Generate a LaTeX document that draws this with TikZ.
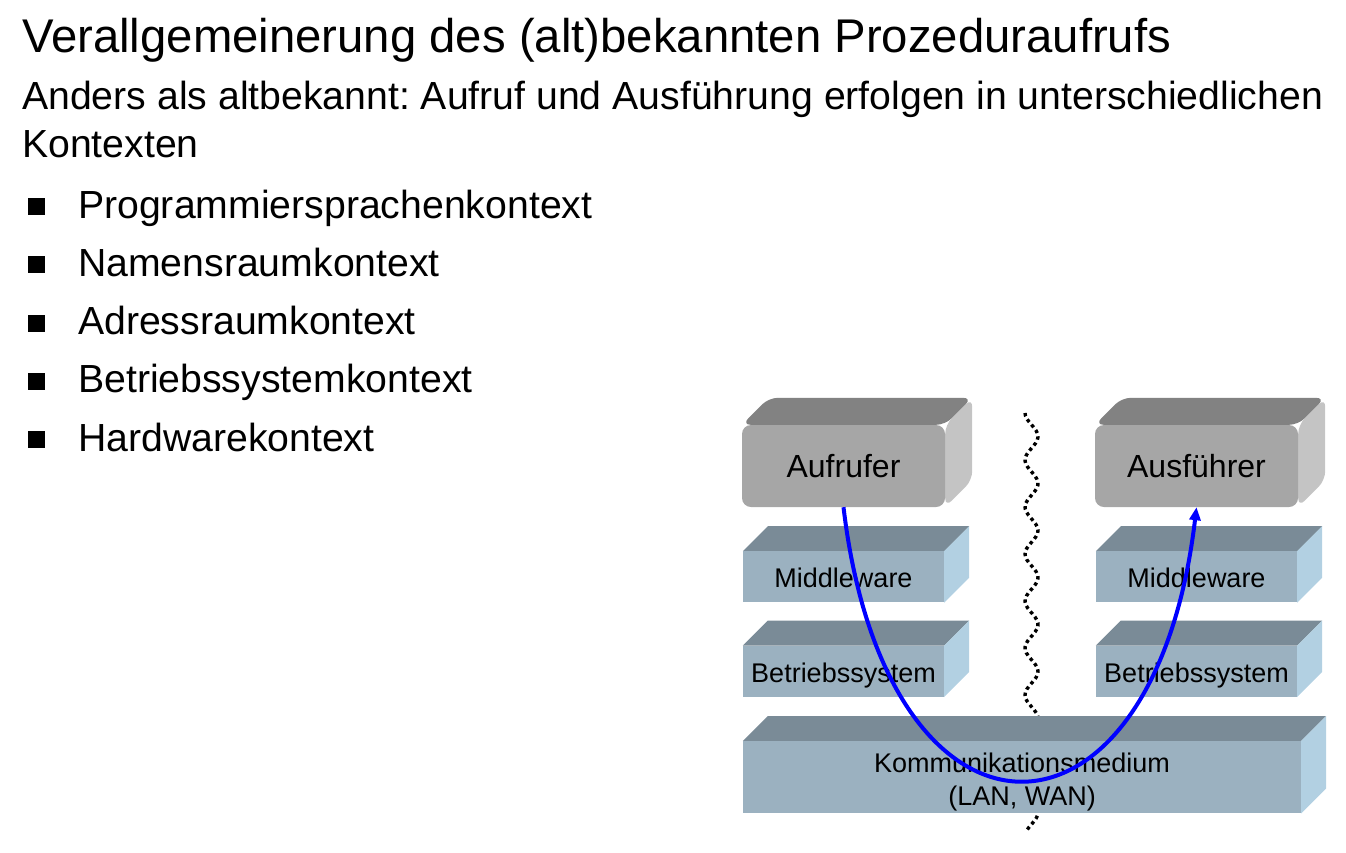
\documentclass[tikz,border=0pt]{standalone}
\usepackage{fontspec}
\setmainfont{Liberation Sans}
\usepackage{xcolor}
\usetikzlibrary{arrows.meta, positioning, calc, backgrounds}
\frenchspacing
\definecolor{cRoleFront}{RGB}{166,166,166}
\definecolor{cRoleTop}{RGB}{130,130,130}
\definecolor{cRoleSide}{RGB}{196,196,196}
\definecolor{cSlabFront}{RGB}{155,177,192}
\definecolor{cSlabTop}{RGB}{122,139,151}
\definecolor{cSlabSide}{RGB}{178,208,226}
\definecolor{cCall}{RGB}{0,0,255}
\tikzset{
    role/.style     ={rectangle, rounded corners=9pt, fill=cRoleFront, minimum width=203pt, minimum height=82pt, inner sep=0pt, text centered, font=\fontsize{32}{38}\selectfont},
    slab/.style     ={rectangle, fill=cSlabFront, minimum width=201pt, minimum height=51pt, inner sep=0pt, align=center, text height=21.4pt, text depth=0pt, font=\fontsize{27}{33}\selectfont},
    headline/.style ={anchor=base west, inner sep=0pt, font=\fontsize{47.3}{56}\selectfont},
    bodyline/.style ={anchor=base west, inner sep=0pt, font=\fontsize{39.2}{49}\selectfont},
    item/.style     ={anchor=base west, inner sep=0pt, font=\fontsize{39.2}{49}\selectfont},
    bulletsq/.style ={rectangle, fill=black, minimum size=17pt, inner sep=0pt},
    separator/.style={line width=3.4pt, dash pattern=on 3.4pt off 3.4pt},
    callarrow/.style={-{Triangle[length=13pt, width=11pt]}, line width=4pt, draw=cCall},
}
\newcommand{\depthfaces}[5]{%
    \fill[#2, #5] (#1.north west) -- ++(#4,-#4) -- ($(#1.north east)+(#4,-#4)$) -- (#1.north east) -- cycle;
    \fill[#3, #5] (#1.north east) -- ++(#4,-#4) -- ($(#1.south east)+(#4,-#4)$) -- (#1.south east) -- cycle;
}

\begin{document}
\begin{tikzpicture}[x=1pt, y=-1pt]
    \useasboundingbox (0,0) rectangle (1346,852);
    \node[headline] (title) at (22,52) {Verallgemeinerung des (alt)bekannten Prozeduraufrufs};
    \node[bodyline] (intro) at (22,109) {Anders als altbekannt: Aufruf und Ausführung erfolgen in unterschiedlichen};
    \node[bodyline] (introcont) at (22,157) {Kontexten};
    \foreach \ctx [count=\i from 0] in {Programmiersprachenkontext, Namensraumkontext, Adressraumkontext, Betriebssystemkontext, Hardwarekontext} {
        \node[bulletsq] (bul\i) at (36.5, 206.5+58.3*\i) {};
        \node[item] (ctx\i) at (78, 218+58.3*\i) {\ctx};
    }

    \node[role] (aufrufer) at (843.5,466) {Aufrufer};
    \node[slab, below=44pt of aufrufer] (mwL) {Middleware};
    \node[slab, below=43pt of mwL] (bsL) {Betriebssystem};
    \node[role] (ausfuehrer) at (1196.5,466) {Ausführer};
    \node[slab, below=44pt of ausfuehrer] (mwR) {Middleware};
    \node[slab, below=43pt of mwR] (bsR) {Betriebssystem};
    \node[slab, minimum width=558pt, minimum height=72pt, text height=57.4pt, text depth=0pt, below=44pt of bsL.south west, anchor=north west] (medium) {Kommunikationsmedium\\(LAN, WAN)};

    \begin{scope}[on background layer]
        \draw[separator] plot[domain=413:830, samples=140, variable=\t] ({1031.5-6.5*cos((\t-413)/47*360)}, \t);
        \depthfaces{aufrufer}{cRoleTop}{cRoleSide}{27}{rounded corners=9pt}
        \depthfaces{ausfuehrer}{cRoleTop}{cRoleSide}{27}{rounded corners=9pt}
        \foreach \s in {mwL, bsL, mwR, bsR, medium}
            \depthfaces{\s}{cSlabTop}{cSlabSide}{25}{};
    \end{scope}

    \draw[callarrow] (aufrufer.south) .. controls +(43,364) and +(-43,364) .. (ausfuehrer.south);
\end{tikzpicture}
\end{document}
